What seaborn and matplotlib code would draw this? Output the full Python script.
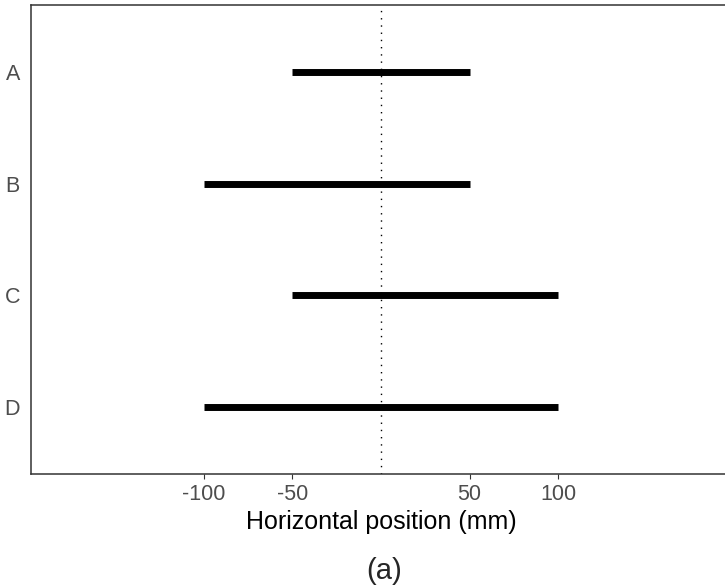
import matplotlib
matplotlib.use("Agg")
import matplotlib.pyplot as plt
import seaborn as sns
import pandas as pd

categories = ["A", "B", "C", "D"]
start_mm = [-50, -100, -50, -100]
end_mm = [50, 50, 100, 100]
tick_values = [-100, -50, 50, 100]
tick_labels = ["-100", "-50", "50", "100"]

sns.set_theme(style="white")
plt.rcParams["font.family"] = ["Liberation Sans", "DejaVu Sans"]

rows = []
for i, (c, s, e) in enumerate(zip(categories, start_mm, end_mm)):
    rows.append({"cat": c, "pos": i, "x": s})
    rows.append({"cat": c, "pos": i, "x": e})
df = pd.DataFrame(rows)

fig = plt.figure(figsize=(7.25, 5.87), dpi=100)
ax = fig.add_axes([31 / 725, 113 / 587, 700 / 725, 469 / 587])

sns.lineplot(data=df, x="x", y="pos", units="cat", estimator=None, sort=False,
             color="black", linewidth=5.0, ax=ax, legend=False)
for ln in ax.get_lines():
    ln.set_solid_capstyle("butt")

ax.axvline(0, color="black", linewidth=1.0, linestyle=(0, (1.0, 4.2)))

ax.set_xlim(-197.6, 197.6)
ax.set_ylim(3.6, -0.6)
ax.set_xticks(tick_values)
ax.set_xticklabels(tick_labels)
ax.set_yticks(range(len(categories)))
ax.set_yticklabels(categories)
ax.tick_params(axis="x", length=3.5, width=0.8, color="#333333", labelsize=15.5,
               labelcolor="#4d4d4d", pad=4, bottom=True)
ax.tick_params(axis="y", length=0, labelsize=15.5, labelcolor="#4d4d4d", pad=8)
ax.set_xlabel("Horizontal position (mm)", fontsize=18, color="black", labelpad=3)
ax.set_ylabel("")

for side in ["left", "bottom", "top", "right"]:
    ax.spines[side].set_visible(True)
    ax.spines[side].set_color("#333333")
    ax.spines[side].set_linewidth(1.1)

fig.text(384 / 725, (587 - 571) / 587, "(a)", fontsize=21, ha="center", va="center")

fig.savefig("out.png", dpi=100)
